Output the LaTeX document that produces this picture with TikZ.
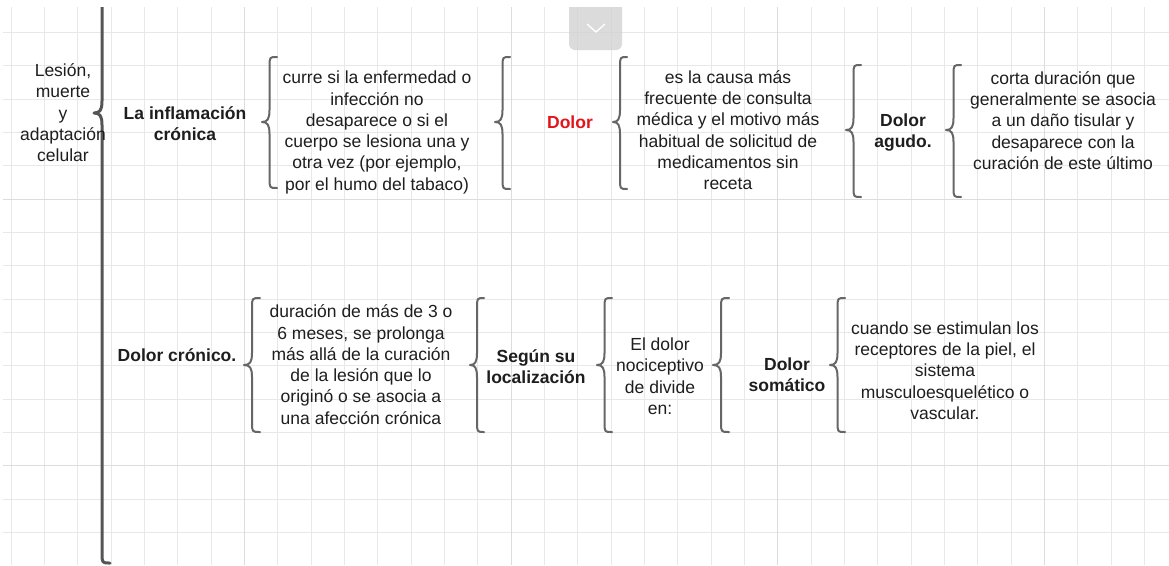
\documentclass[tikz,border=0pt]{standalone}
\usepackage{fontspec}
\setmainfont{Liberation Sans}
\definecolor{txtc}{HTML}{1E1E1E}
\definecolor{redc}{HTML}{E3141B}
\definecolor{bracec}{HTML}{666666}
\definecolor{bigc}{HTML}{555555}
\definecolor{gridc}{HTML}{E8E8E8}
\definecolor{gridk}{HTML}{DCDCDC}
\definecolor{btnc}{HTML}{D0D0D0}
\newcommand\ls{\rule[-4.65pt]{0pt}{21.3pt}}
% #2 tip x, #3 end x, #4 top y, #5 bottom y, #6 tip y
\newcommand\curlyb[6][]{%
  \draw[brc,#1] (#3,#4) .. controls ({(#2+#3)/2},#4) .. ({(#2+#3)/2},{#4+10})
    -- ({(#2+#3)/2},{#6-12}) .. controls ({(#2+#3)/2},{#6-3}) and ({(#2+#3)/2-2},#6) .. (#2,#6)
    .. controls ({(#2+#3)/2-2},#6) and ({(#2+#3)/2},{#6+3}) .. ({(#2+#3)/2},{#6+12})
    -- ({(#2+#3)/2},{#5-10}) .. controls ({(#2+#3)/2},#5) .. (#3,#5);}
\begin{document}
\begin{tikzpicture}[x=1pt,y=-1pt,
  txt/.style={inner sep=0pt, align=center, text=txtc, font=\fontsize{17.5}{21.3}\selectfont},
  bld/.style={txt, font=\fontsize{17.5}{21.3}\selectfont\bfseries},
  brc/.style={draw=bracec, line width=2pt, line cap=round, line join=round},
  gridline/.style={draw=gridc, line width=0.8pt},
  griddark/.style={draw=gridk, line width=0.9pt}]
\useasboundingbox (0,0) rectangle (1169,565);
\fill[white] (0,0) rectangle (1169,565);
\begin{scope}
  \clip (3,7) rectangle (1169,565);
  \foreach \k in {0,...,34} \draw[gridline] ({11+33.333*\k},7) -- ({11+33.333*\k},565);
  \foreach \k in {0,...,15} \draw[gridline] (3,{32.33+33.333*\k}) -- (1169,{32.33+33.333*\k});
  \foreach \k in {7,15,23,31} \draw[griddark] ({11+33.333*\k},7) -- ({11+33.333*\k},565);
  \foreach \k in {5,13} \draw[griddark] (3,{32.33+33.333*\k}) -- (1169,{32.33+33.333*\k});
  \fill[btnc, fill opacity=0.75, rounded corners=6pt] (569,-10) rectangle (622,50);
  % big brace
  \draw[brc, draw=bigc, line width=3pt] (102,0) -- (102,101)
    .. controls (102,110) and (100,113) .. (94,113) .. controls (100,113) and (102,116) .. (102,125)
    -- (102,553) .. controls (102,563) .. (110,563);
\end{scope}
\draw[white, line width=1.3pt] (587,24) -- (596,32) -- (605,24);

% row 1 braces
\curlyb{262}{277}{57}{188}{122}
\curlyb{495}{510}{57}{189}{122}
\curlyb{613}{627}{57}{189}{122}
\curlyb{846}{861}{65}{197}{130}
\curlyb{946}{961}{65}{197}{130}
% row 2 braces
\curlyb{244}{260}{298}{432}{365}
\curlyb{470}{484}{298}{432}{365}
\curlyb{597}{612}{298}{432}{365}
\curlyb{713}{729}{298}{432}{365}
\curlyb{830}{845}{298}{432}{365}

% texts
\node[txt] (lesion) at (63,113) {\ls Lesión,\\\ls muerte\\\ls y\\\ls adaptación\\\ls celular};
\node[bld] (infl) at (185,124) {\ls La inflamación\\\ls crónica};
\node[txt] (t1) at (377,131) {\ls curre si la enfermedad o\\\ls infección no\\\ls desaparece o si el\\\ls cuerpo se lesiona una y\\\ls otra vez (por ejemplo,\\\ls por el humo del tabaco)};
\node[bld, text=redc] (dolor) at (570,122) {\ls Dolor};
\node[txt] (t2) at (728,130.5) {\ls es la causa más\\\ls frecuente de consulta\\\ls médica y el motivo más\\\ls habitual de solicitud de\\\ls medicamentos sin\\\ls receta};
\node[bld] (agudo) at (903,131) {\ls Dolor\\\ls agudo.};
\node[txt] (t3) at (1063,120.7) {\ls corta duración que\\\ls generalmente se asocia\\\ls a un daño tisular y\\\ls desaparece con la\\\ls curación de este último};

\node[bld] (cronico) at (177,355) {\ls Dolor crónico.};
\node[txt] (t4) at (361,365) {\ls duración de más de 3 o\\\ls 6 meses, se prolonga\\\ls más allá de la curación\\\ls de la lesión que lo\\\ls originó o se asocia a\\\ls una afección crónica};
\node[bld] (segun) at (536,367) {\ls Según su\\\ls localización};
\node[txt] (noci) at (660,376.5) {\ls El dolor\\\ls nociceptivo\\\ls de divide\\\ls en:};
\node[bld] (somatico) at (787,375) {\ls Dolor\\\ls somático};
\node[txt] (t5) at (945,370.7) {\ls cuando se estimulan los\\\ls receptores de la piel, el\\\ls sistema\\\ls musculoesquelético o\\\ls vascular.};
\end{tikzpicture}
\end{document}
